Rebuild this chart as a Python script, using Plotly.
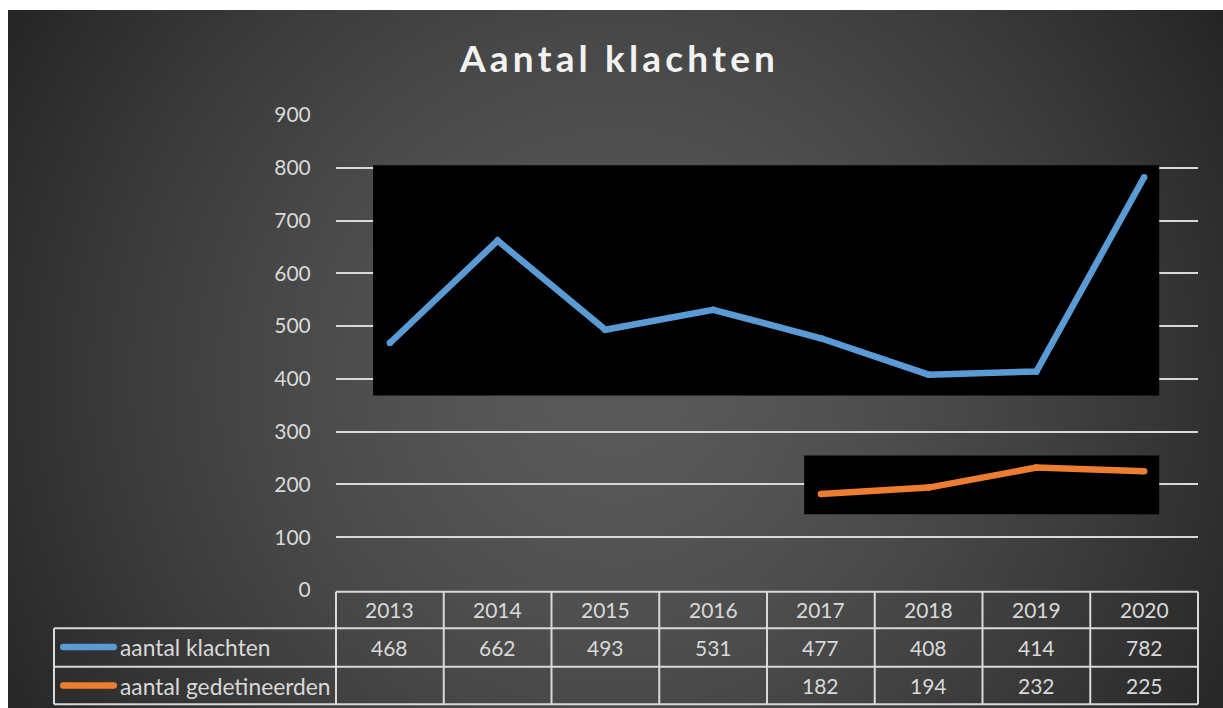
import base64
import struct
import zlib

import numpy as np
import plotly.graph_objects as go

# ---------------- data ----------------
years = ["2013", "2014", "2015", "2016", "2017", "2018", "2019", "2020"]
klachten = [468, 662, 493, 531, 477, 408, 414, 782]
gedetineerden = [None, None, None, None, 182, 194, 232, 225]
series_names = ["aantal klachten", "aantal gedetineerden"]
y_ticks = [0, 100, 200, 300, 400, 500, 600, 700, 800, 900]
chart_title = "Aantal klachten"

# ---------------- geometry (pixels) ----------------
W, H = 1223, 708
L, R, T, B = 336, 1198, 115, 590  # plot-area box


def xp(px):
    return (px - L) / (R - L)


def yp(py):
    return (B - py) / (B - T)


BLUE = "#5b9bd5"
ORANGE = "#ed7d31"
TXT = "#d9d9d9"
LINEW = 6.5
FONT = "Lato"

# ---------------- background gradient image ----------------
def png_gray(arr):
    h, w = arr.shape
    raw = b"".join(b"\x00" + arr[i].tobytes() for i in range(h))

    def chunk(t, d):
        c = struct.pack(">I", len(d)) + t + d
        return c + struct.pack(">I", zlib.crc32(t + d) & 0xFFFFFFFF)

    return (b"\x89PNG\r\n\x1a\n"
            + chunk(b"IHDR", struct.pack(">IIBBBBB", w, h, 8, 0, 0, 0, 0))
            + chunk(b"IDAT", zlib.compress(raw, 9))
            + chunk(b"IEND", b""))


bx0, by0 = 8, 10
bw, bh = W - bx0, H - by0
gw, gh = bw // 2, bh // 2
xs = bx0 + (np.arange(gw) + 0.5) * bw / gw
ys = by0 + (np.arange(gh) + 0.5) * bh / gh
XX, YY = np.meshgrid(xs, ys)
dist = np.sqrt((XX - 615) ** 2 + (YY - 378) ** 2) / 700.0
val = 90 - (90 - 38) * np.clip(dist, 0, 1.1) ** 1.5
img = np.clip(val, 0, 255).astype(np.uint8)
src = "data:image/png;base64," + base64.b64encode(png_gray(img)).decode()

# ---------------- figure ----------------
fig = go.Figure()

fig.add_trace(go.Scatter(
    x=list(range(len(years))), y=klachten, name=series_names[0],
    mode="lines+markers",
    line=dict(color=BLUE, width=LINEW),
    marker=dict(color=BLUE, size=LINEW),
    hoverinfo="skip",
))
fig.add_trace(go.Scatter(
    x=list(range(len(years))), y=gedetineerden, name=series_names[1],
    mode="lines+markers", connectgaps=False,
    line=dict(color=ORANGE, width=LINEW),
    marker=dict(color=ORANGE, size=LINEW),
    hoverinfo="skip",
))

shapes = []
# black panels behind the lines
shapes.append(dict(type="rect", xref="x", yref="y", x0=-0.156, x1=7.14, y0=368.5, y1=805,
                   fillcolor="black", line=dict(width=0), layer="between"))
shapes.append(dict(type="rect", xref="x", yref="y", x0=3.845, x1=7.14, y0=143.6, y1=254.8,
                   fillcolor="black", line=dict(width=0), layer="between"))

# data table grid
row_y = [591.7, 628.3, 666.7, 704.3]
tab_left = 54
grid_line = dict(color=TXT, width=2)
shapes.append(dict(type="line", xref="paper", yref="paper", x0=0, x1=1,
                   y0=yp(row_y[0]), y1=yp(row_y[0]), line=grid_line))
for ry in row_y[1:]:
    shapes.append(dict(type="line", xref="paper", yref="paper", x0=xp(tab_left), x1=1,
                       y0=yp(ry), y1=yp(ry), line=grid_line))
shapes.append(dict(type="line", xref="paper", yref="paper", x0=xp(tab_left), x1=xp(tab_left),
                   y0=yp(row_y[1]), y1=yp(row_y[3]), line=grid_line))
n = len(years)
for k in range(n + 1):
    shapes.append(dict(type="line", xref="paper", yref="paper", x0=k / n, x1=k / n,
                       y0=yp(row_y[0]), y1=yp(row_y[3]), line=grid_line))

# legend swatches (pill shaped)
row_centers = [609.5, 647, 685.5]
for color, cy in [(BLUE, row_centers[1]), (ORANGE, row_centers[2])]:
    x0s, x1s = 60 + LINEW / 2, 117 - LINEW / 2
    shapes.append(dict(type="rect", xref="paper", yref="paper",
                       x0=xp(x0s), x1=xp(x1s), y0=yp(cy - LINEW / 2), y1=yp(cy + LINEW / 2),
                       fillcolor=color, line=dict(width=0)))
    for ex in (x0s, x1s):
        shapes.append(dict(type="circle", xref="paper", yref="paper",
                           x0=xp(ex - LINEW / 2), x1=xp(ex + LINEW / 2),
                           y0=yp(cy - LINEW / 2), y1=yp(cy + LINEW / 2),
                           fillcolor=color, line=dict(width=0)))

annotations = []
cell_font = dict(family=FONT, size=21, color=TXT)
name_font = dict(family=FONT, size=22.8, color=TXT)
for i, yr in enumerate(years):
    annotations.append(dict(x=i, xref="x", y=yp(row_centers[0]), yref="paper", text=yr,
                            showarrow=False, font=cell_font, xanchor="center", yanchor="middle"))
for r, vals in enumerate([klachten, gedetineerden]):
    for i, v in enumerate(vals):
        if v is None:
            continue
        annotations.append(dict(x=i, xref="x", y=yp(row_centers[r + 1]), yref="paper",
                                text=str(v), showarrow=False, font=cell_font,
                                xanchor="center", yanchor="middle"))
    annotations.append(dict(x=xp(118), xref="paper", y=yp(row_centers[r + 1]), yref="paper",
                            text=series_names[r], showarrow=False, font=name_font,
                            xanchor="left", yanchor="middle"))

# title with letter spacing (small non-breaking spaces between characters)
spacer = '<span style="font-size:17px">\u00a0</span>'
spaced_title = spacer.join(ch if ch != " " else "\u00a0" for ch in chart_title)
annotations.append(dict(x=xp(616.5), xref="paper", y=yp(57), yref="paper",
                        text="<b>" + spaced_title + "</b>", showarrow=False,
                        font=dict(family=FONT, size=37, color="#f2f2f2"),
                        xanchor="center", yanchor="middle"))

fig.update_layout(
    width=W, height=H, autosize=False,
    margin=dict(l=L, r=W - R, t=T, b=H - B, pad=0),
    paper_bgcolor="white",
    plot_bgcolor="rgba(0,0,0,0)",
    showlegend=False,
    hovermode=False,
    shapes=shapes,
    annotations=annotations,
    images=[dict(source=src, xref="paper", yref="paper",
                 x=xp(bx0), y=yp(by0), sizex=xp(W) - xp(bx0), sizey=yp(by0) - yp(H),
                 xanchor="left", yanchor="top", sizing="stretch", layer="below")],
    xaxis=dict(range=[-0.5, n - 0.5], showgrid=False, zeroline=False, showline=False,
               showticklabels=False, ticks="", fixedrange=True),
    yaxis=dict(range=[0, 900], tickvals=y_ticks, showgrid=True, gridcolor=TXT, gridwidth=1.75,
               zeroline=False, showline=False, ticks="outside", ticklen=20,
               tickcolor="rgba(0,0,0,0)", tickfont=dict(family=FONT, size=21, color=TXT),
               fixedrange=True),
)

fig.write_html("out.html", post_script="document.body.style.margin='0';",
               config={"displayModeBar": False})
